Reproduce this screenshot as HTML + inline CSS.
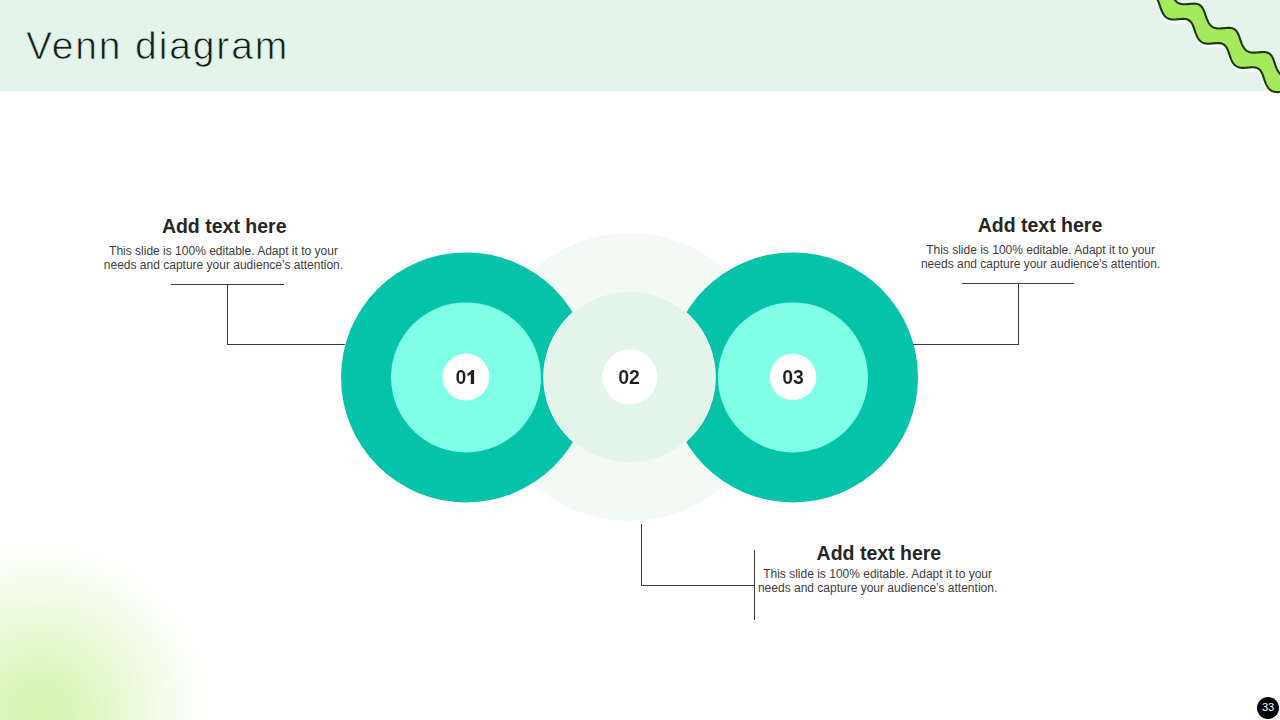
<!DOCTYPE html>
<html><head><meta charset="utf-8"><style>
html,body{margin:0;padding:0;}
body{width:1280px;height:720px;position:relative;overflow:hidden;background:#fff;font-family:"Liberation Sans",sans-serif;}
.abs{position:absolute;}
.title{position:absolute;left:26px;top:26px;font-size:39px;line-height:39px;letter-spacing:1.87px;color:#141d17;white-space:nowrap;-webkit-text-stroke:0.75px #e4f4ea;}
.h{position:absolute;font-weight:bold;font-size:19.5px;line-height:19px;color:#262626;text-align:center;white-space:nowrap;}
.b{position:absolute;font-size:12px;line-height:14px;color:#404040;text-align:center;white-space:nowrap;}
.num{position:absolute;font-weight:bold;font-size:21px;line-height:21px;color:#1e1e1e;text-align:center;width:60px;transform:scaleX(0.93);-webkit-text-stroke:0.15px #fff;}
.pg{position:absolute;left:1257px;top:697px;width:22px;height:22px;border-radius:50%;background:#000;color:#fff;font-size:11px;line-height:20px;text-align:center;}
</style></head><body>
<svg class="abs" style="left:0;top:0" width="1280" height="720" viewBox="0 0 1280 720">
<defs>
<radialGradient id="gl" cx="40" cy="712" r="188" gradientUnits="userSpaceOnUse">
<stop offset="0" stop-color="#d7f5b3"/>
<stop offset="0.18" stop-color="#dbf6bb"/>
<stop offset="0.45" stop-color="#e9f9d6"/>
<stop offset="0.72" stop-color="#f6fdef"/>
<stop offset="1" stop-color="#ffffff" stop-opacity="0"/>
</radialGradient>
<filter id="blur1" x="-20%" y="-20%" width="140%" height="140%"><feGaussianBlur stdDeviation="1.4"/></filter>
</defs>
<rect x="0" y="480" width="320" height="240" fill="url(#gl)"/>
<rect x="0" y="0" width="1280" height="91" fill="#e4f4ea"/>
<path d="M1085.34,-68.66 L1086.00,-68.72 L1086.65,-68.78 L1087.29,-68.84 L1087.94,-68.88 L1088.57,-68.92 L1089.20,-68.94 L1089.81,-68.95 L1090.42,-68.94 L1091.01,-68.92 L1091.59,-68.87 L1092.15,-68.81 L1092.70,-68.71 L1093.23,-68.60 L1093.74,-68.46 L1094.23,-68.29 L1094.70,-68.10 L1095.16,-67.87 L1095.60,-67.63 L1096.01,-67.35 L1096.41,-67.04 L1096.79,-66.71 L1097.15,-66.36 L1097.49,-65.98 L1097.82,-65.57 L1098.13,-65.14 L1098.42,-64.69 L1098.71,-64.22 L1098.97,-63.73 L1099.23,-63.22 L1099.48,-62.70 L1099.71,-62.17 L1099.94,-61.62 L1100.16,-61.06 L1100.37,-60.49 L1100.58,-59.92 L1100.79,-59.34 L1100.99,-58.75 L1101.19,-58.17 L1101.39,-57.58 L1101.59,-56.99 L1101.79,-56.41 L1102.00,-55.83 L1102.20,-55.25 L1102.41,-54.68 L1102.63,-54.11 L1102.85,-53.56 L1103.08,-53.01 L1103.31,-52.47 L1103.55,-51.94 L1103.80,-51.42 L1104.05,-50.91 L1104.32,-50.42 L1104.59,-49.94 L1104.88,-49.47 L1105.17,-49.02 L1105.48,-48.59 L1105.80,-48.17 L1106.13,-47.77 L1106.47,-47.39 L1106.83,-47.03 L1107.20,-46.69 L1107.59,-46.37 L1107.99,-46.07 L1108.40,-45.79 L1108.83,-45.53 L1109.28,-45.29 L1109.74,-45.08 L1110.22,-44.89 L1110.71,-44.72 L1111.22,-44.58 L1111.74,-44.46 L1112.28,-44.35 L1112.83,-44.27 L1113.40,-44.21 L1113.98,-44.17 L1114.58,-44.15 L1115.18,-44.14 L1115.80,-44.15 L1116.42,-44.17 L1117.06,-44.21 L1117.70,-44.25 L1118.34,-44.31 L1118.99,-44.36 L1119.65,-44.42 L1120.30,-44.49 L1120.95,-44.55 L1121.60,-44.60 L1122.24,-44.65 L1122.88,-44.70 L1123.52,-44.73 L1124.14,-44.75 L1124.75,-44.75 L1125.35,-44.73 L1125.94,-44.70 L1126.51,-44.65 L1127.06,-44.57 L1127.60,-44.47 L1128.12,-44.34 L1128.63,-44.19 L1129.11,-44.01 L1129.58,-43.81 L1130.03,-43.57 L1130.45,-43.31 L1130.86,-43.02 L1131.25,-42.71 L1131.62,-42.37 L1131.98,-42.00 L1132.31,-41.61 L1132.63,-41.19 L1132.94,-40.75 L1133.23,-40.30 L1133.50,-39.82 L1133.77,-39.32 L1134.02,-38.81 L1134.26,-38.28 L1134.49,-37.74 L1134.71,-37.18 L1134.93,-36.62 L1135.14,-36.05 L1135.35,-35.48 L1135.55,-34.89 L1135.76,-34.31 L1135.96,-33.72 L1136.16,-33.14 L1136.36,-32.55 L1136.56,-31.97 L1136.76,-31.39 L1136.97,-30.81 L1137.19,-30.24 L1137.40,-29.68 L1137.63,-29.12 L1137.85,-28.58 L1138.09,-28.04 L1138.33,-27.52 L1138.58,-27.00 L1138.84,-26.50 L1139.11,-26.02 L1139.39,-25.54 L1139.68,-25.08 L1139.98,-24.64 L1140.29,-24.21 L1140.62,-23.80 L1140.95,-23.41 L1141.30,-23.04 L1141.67,-22.68 L1142.04,-22.35 L1142.44,-22.04 L1142.84,-21.75 L1143.26,-21.48 L1143.70,-21.23 L1144.15,-21.00 L1144.62,-20.80 L1145.10,-20.62 L1145.60,-20.46 L1146.12,-20.32 L1146.65,-20.21 L1147.19,-20.12 L1147.75,-20.04 L1148.32,-19.99 L1148.91,-19.96 L1149.51,-19.94 L1150.12,-19.94 L1150.74,-19.96 L1151.37,-19.99 L1152.01,-20.02 L1152.65,-20.07 L1153.30,-20.13 L1153.95,-20.19 L1154.60,-20.25 L1155.25,-20.31 L1155.90,-20.37 L1156.55,-20.42 L1157.19,-20.47 L1157.83,-20.51 L1158.46,-20.53 L1159.08,-20.55 L1159.68,-20.54 L1160.28,-20.52 L1160.86,-20.48 L1161.42,-20.41 L1161.97,-20.33 L1162.50,-20.22 L1163.02,-20.08 L1163.51,-19.92 L1163.99,-19.73 L1164.45,-19.51 L1164.89,-19.27 L1165.31,-18.99 L1165.71,-18.69 L1166.09,-18.37 L1166.46,-18.02 L1166.80,-17.64 L1167.13,-17.24 L1167.44,-16.81 L1167.74,-16.36 L1168.03,-15.90 L1168.30,-15.41 L1168.55,-14.91 L1168.80,-14.39 L1169.04,-13.85 L1169.27,-13.31 L1169.49,-12.75 L1169.70,-12.18 L1169.91,-11.61 L1170.12,-11.03 L1170.32,-10.45 L1170.52,-9.86 L1170.72,-9.28 L1170.92,-8.69 L1171.12,-8.11 L1171.33,-7.52 L1171.53,-6.94 L1171.74,-6.37 L1171.96,-5.81 L1172.18,-5.25 L1172.40,-4.69 L1172.63,-4.15 L1172.87,-3.62 L1173.12,-3.10 L1173.37,-2.59 L1173.64,-2.10 L1173.91,-1.61 L1174.19,-1.15 L1174.49,-0.69 L1174.79,-0.26 L1175.11,0.16 L1175.44,0.56 L1175.78,0.95 L1176.14,1.31 L1176.50,1.66 L1176.89,1.98 L1177.29,2.29 L1177.70,2.57 L1178.12,2.83 L1178.57,3.07 L1179.03,3.29 L1179.50,3.48 L1179.99,3.65 L1180.50,3.80 L1181.02,3.93 L1181.55,4.03 L1182.11,4.12 L1182.67,4.18 L1183.25,4.23 L1183.84,4.25 L1184.44,4.26 L1185.06,4.25 L1185.68,4.23 L1186.31,4.20 L1186.95,4.16 L1187.60,4.11 L1188.25,4.05 L1188.90,3.99 L1189.55,3.93 L1190.21,3.87 L1190.86,3.81 L1191.50,3.76 L1192.14,3.71 L1192.78,3.68 L1193.40,3.66 L1194.01,3.65 L1194.61,3.67 L1195.20,3.70 L1195.78,3.75 L1196.34,3.82 L1196.88,3.92 L1197.40,4.04 L1197.91,4.19 L1198.40,4.36 L1198.87,4.56 L1199.32,4.79 L1199.75,5.05 L1200.16,5.33 L1200.55,5.64 L1200.93,5.98 L1201.28,6.34 L1201.62,6.73 L1201.95,7.14 L1202.25,7.57 L1202.54,8.03 L1202.82,8.50 L1203.09,9.00 L1203.34,9.51 L1203.58,10.03 L1203.82,10.57 L1204.04,11.12 L1204.26,11.69 L1204.47,12.25 L1204.68,12.83 L1204.89,13.41 L1205.09,14.00 L1205.29,14.58 L1205.49,15.17 L1205.69,15.75 L1205.89,16.34 L1206.10,16.92 L1206.30,17.50 L1206.52,18.07 L1206.73,18.63 L1206.95,19.19 L1207.18,19.73 L1207.42,20.27 L1207.66,20.80 L1207.91,21.31 L1208.17,21.82 L1208.43,22.31 L1208.71,22.78 L1209.00,23.24 L1209.30,23.69 L1209.61,24.12 L1209.93,24.53 L1210.26,24.93 L1210.61,25.30 L1210.97,25.66 L1211.35,26.00 L1211.73,26.31 L1212.14,26.61 L1212.56,26.88 L1212.99,27.14 L1213.44,27.37 L1213.90,27.57 L1214.39,27.76 L1214.88,27.92 L1215.39,28.06 L1215.92,28.18 L1216.46,28.27 L1217.02,28.35 L1217.59,28.40 L1218.18,28.44 L1218.77,28.46 L1219.38,28.46 L1220.00,28.45 L1220.63,28.42 L1221.26,28.39 L1221.90,28.34 L1222.55,28.29 L1223.20,28.23 L1223.85,28.17 L1224.51,28.10 L1225.16,28.04 L1225.81,27.99 L1226.45,27.94 L1227.09,27.90 L1227.72,27.87 L1228.34,27.86 L1228.95,27.86 L1229.54,27.88 L1230.13,27.92 L1230.69,27.98 L1231.25,28.06 L1231.78,28.17 L1232.30,28.30 L1232.80,28.46 L1233.28,28.64 L1233.74,28.85 L1234.18,29.09 L1234.61,29.36 L1235.01,29.66 L1235.39,29.98 L1235.76,30.33 L1236.11,30.70 L1236.44,31.10 L1236.76,31.52 L1237.06,31.96 L1237.34,32.43 L1237.62,32.91 L1237.88,33.41 L1238.13,33.93 L1238.37,34.46 L1238.60,35.00 L1238.82,35.56 L1239.03,36.12 L1239.24,36.69 L1239.45,37.27 L1239.65,37.85 L1239.85,38.44 L1240.05,39.03 L1240.26,39.61 L1240.46,40.20 L1240.66,40.78 L1240.86,41.36 L1241.07,41.93 L1241.29,42.50 L1241.51,43.06 L1241.73,43.62 L1241.96,44.16 L1242.20,44.69 L1242.44,45.21 L1242.70,45.73 L1242.96,46.22 L1243.23,46.71 L1243.51,47.18 L1243.80,47.63 L1244.11,48.07 L1244.42,48.50 L1244.75,48.90 L1245.09,49.29 L1245.44,49.66 L1245.81,50.01 L1246.19,50.33 L1246.58,50.64 L1246.99,50.93 L1247.42,51.19 L1247.86,51.44 L1248.31,51.66 L1248.79,51.85 L1249.27,52.03 L1249.78,52.18 L1250.29,52.31 L1250.83,52.42 L1251.38,52.51 L1251.94,52.58 L1252.52,52.62 L1253.11,52.65 L1253.71,52.66 L1254.32,52.66 L1254.94,52.64 L1255.57,52.61 L1256.21,52.57 L1256.86,52.52 L1257.50,52.46 L1258.16,52.40 L1258.81,52.34 L1259.46,52.28 L1260.11,52.22 L1260.76,52.17 L1261.40,52.12 L1262.03,52.09 L1262.66,52.07 L1263.28,52.06 L1263.88,52.07 L1264.47,52.09 L1265.05,52.14 L1265.61,52.21 L1266.15,52.30 L1266.68,52.42 L1267.19,52.56 L1267.68,52.73 L1268.16,52.93 L1268.61,53.15 L1269.04,53.40 L1269.46,53.68 L1269.85,53.99 L1270.23,54.32 L1270.59,54.68 L1270.93,55.06 L1271.26,55.47 L1271.57,55.90 L1271.86,56.35 L1272.14,56.83 L1272.41,57.32 L1272.67,57.82 L1272.91,58.35 L1273.14,58.88 L1273.37,59.43 L1273.59,59.99 L1273.80,60.56 L1274.01,61.14 L1274.22,61.72 L1274.42,62.30 L1274.62,62.89 L1274.82,63.47 L1275.02,64.06 L1275.22,64.64 L1275.43,65.22 L1275.63,65.80 L1275.85,66.37 L1276.06,66.94 L1276.28,67.50 L1276.51,68.04 L1276.74,68.58 L1276.98,69.11 L1277.23,69.63 L1277.49,70.14 L1277.75,70.63 L1278.03,71.11 L1278.32,71.57 L1278.61,72.02 L1278.92,72.45 L1279.24,72.87 L1279.57,73.27 L1279.92,73.65 L1280.27,74.01 L1280.65,74.35 L1281.03,74.67 L1281.43,74.97 L1281.85,75.24 L1282.28,75.50 L1282.73,75.73 L1283.19,75.94 L1283.67,76.13 L1284.16,76.30 L1284.67,76.44 L1285.20,76.56 L1285.74,76.66 L1286.29,76.74 L1286.86,76.80 L1287.44,76.84 L1288.04,76.86 L1288.64,76.87 L1289.26,76.86 L1289.89,76.83 L1290.52,76.80 L1291.16,76.75 L1291.81,76.70 L1292.46,76.64 L1293.11,76.58 L1293.76,76.52 L1294.42,76.46 L1295.06,76.40 L1295.71,76.35 L1296.35,76.31 L1296.98,76.28 L1297.60,76.26 L1298.21,76.26 L1298.81,76.28 L1299.39,76.31 L1299.97,76.37 L1300.52,76.45 L1301.06,76.55 L1301.58,76.68 L1302.08,76.83 L1302.56,77.01 L1303.03,77.22 L1303.47,77.46 L1303.90,77.72 L1304.31,78.01 L1304.70,78.33 L1305.07,78.67 L1305.42,79.04 L1305.75,79.43 L1306.07,79.85 L1306.38,80.29 L1306.66,80.75 L1306.94,81.23 L1307.20,81.73 L1307.45,82.24 L1307.69,82.77 L1307.92,83.31 L1308.15,83.87 L1308.36,84.43 L1308.57,85.00 L1308.78,85.58 L1308.99,86.16 L1309.19,86.74 L1309.39,87.33 L1309.59,87.92 L1309.79,88.50 L1309.99,89.09 L1310.20,89.67 L1310.40,90.24 L1310.62,90.81 L1310.84,91.37 L1311.06,91.93 L1311.29,92.47 L1311.52,93.01 L1311.77,93.53 L1312.02,94.04 L1312.28,94.54 L1312.55,95.03 L1301.79,110.26 L1301.52,109.77 L1301.26,109.27 L1301.01,108.76 L1300.77,108.23 L1300.53,107.70 L1300.30,107.15 L1300.08,106.60 L1299.86,106.04 L1299.65,105.47 L1299.44,104.89 L1299.23,104.32 L1299.03,103.73 L1298.83,103.15 L1298.63,102.56 L1298.43,101.97 L1298.23,101.39 L1298.02,100.81 L1297.82,100.23 L1297.61,99.66 L1297.39,99.09 L1297.17,98.54 L1296.93,98.00 L1296.69,97.47 L1296.44,96.96 L1296.18,96.46 L1295.91,95.98 L1295.62,95.52 L1295.31,95.08 L1295.00,94.66 L1294.66,94.27 L1294.31,93.90 L1293.94,93.55 L1293.55,93.24 L1293.14,92.95 L1292.72,92.68 L1292.27,92.45 L1291.81,92.24 L1291.32,92.06 L1290.82,91.91 L1290.30,91.78 L1289.76,91.68 L1289.21,91.60 L1288.64,91.54 L1288.05,91.51 L1287.45,91.49 L1286.84,91.49 L1286.22,91.51 L1285.59,91.54 L1284.95,91.58 L1284.31,91.63 L1283.66,91.69 L1283.01,91.75 L1282.35,91.81 L1281.70,91.87 L1281.05,91.93 L1280.40,91.98 L1279.76,92.03 L1279.13,92.06 L1278.50,92.08 L1277.89,92.09 L1277.28,92.09 L1276.68,92.07 L1276.10,92.03 L1275.53,91.97 L1274.98,91.89 L1274.44,91.79 L1273.91,91.67 L1273.41,91.53 L1272.91,91.36 L1272.43,91.17 L1271.97,90.96 L1271.52,90.73 L1271.09,90.47 L1270.68,90.19 L1270.28,89.89 L1269.89,89.57 L1269.52,89.23 L1269.16,88.87 L1268.81,88.49 L1268.48,88.10 L1268.16,87.68 L1267.85,87.25 L1267.56,86.80 L1267.27,86.33 L1267.00,85.86 L1266.73,85.36 L1266.47,84.86 L1266.22,84.34 L1265.98,83.81 L1265.75,83.27 L1265.52,82.72 L1265.30,82.17 L1265.09,81.60 L1264.88,81.03 L1264.67,80.45 L1264.47,79.87 L1264.26,79.29 L1264.06,78.70 L1263.86,78.11 L1263.66,77.53 L1263.46,76.94 L1263.26,76.36 L1263.05,75.79 L1262.83,75.22 L1262.61,74.66 L1262.39,74.11 L1262.15,73.58 L1261.91,73.05 L1261.65,72.55 L1261.38,72.05 L1261.10,71.58 L1260.81,71.13 L1260.50,70.70 L1260.18,70.29 L1259.83,69.91 L1259.47,69.55 L1259.10,69.22 L1258.70,68.91 L1258.29,68.63 L1257.85,68.38 L1257.40,68.16 L1256.93,67.96 L1256.43,67.79 L1255.92,67.65 L1255.40,67.53 L1254.85,67.44 L1254.29,67.37 L1253.71,67.32 L1253.12,67.29 L1252.52,67.29 L1251.90,67.29 L1251.28,67.32 L1250.64,67.35 L1250.00,67.40 L1249.35,67.45 L1248.70,67.51 L1248.05,67.57 L1247.40,67.63 L1246.75,67.69 L1246.10,67.75 L1245.45,67.80 L1244.82,67.84 L1244.18,67.87 L1243.56,67.89 L1242.95,67.89 L1242.35,67.88 L1241.76,67.85 L1241.18,67.80 L1240.62,67.74 L1240.07,67.65 L1239.54,67.54 L1239.02,67.41 L1238.52,67.26 L1238.03,67.08 L1237.56,66.88 L1237.10,66.66 L1236.66,66.42 L1236.23,66.16 L1235.83,65.87 L1235.43,65.56 L1235.05,65.23 L1234.68,64.88 L1234.33,64.52 L1233.99,64.13 L1233.66,63.72 L1233.35,63.30 L1233.05,62.86 L1232.75,62.41 L1232.47,61.94 L1232.20,61.45 L1231.94,60.95 L1231.69,60.44 L1231.44,59.92 L1231.20,59.39 L1230.97,58.84 L1230.75,58.29 L1230.53,57.73 L1230.32,57.16 L1230.11,56.59 L1229.90,56.01 L1229.70,55.43 L1229.50,54.84 L1229.30,54.26 L1229.10,53.67 L1228.90,53.08 L1228.69,52.50 L1228.49,51.92 L1228.28,51.35 L1228.06,50.79 L1227.84,50.23 L1227.61,49.69 L1227.37,49.16 L1227.12,48.64 L1226.86,48.14 L1226.59,47.65 L1226.30,47.19 L1226.00,46.75 L1225.68,46.33 L1225.35,45.93 L1225.00,45.55 L1224.64,45.21 L1224.25,44.88 L1223.85,44.59 L1223.42,44.32 L1222.98,44.08 L1222.52,43.87 L1222.04,43.68 L1221.54,43.53 L1221.02,43.39 L1220.49,43.29 L1219.94,43.20 L1219.37,43.14 L1218.79,43.11 L1218.19,43.09 L1217.58,43.09 L1216.96,43.10 L1216.33,43.13 L1215.69,43.17 L1215.05,43.22 L1214.40,43.27 L1213.75,43.33 L1213.10,43.40 L1212.44,43.46 L1211.79,43.52 L1211.15,43.57 L1210.50,43.62 L1209.87,43.65 L1209.24,43.68 L1208.62,43.69 L1208.02,43.69 L1207.42,43.67 L1206.83,43.63 L1206.26,43.58 L1205.71,43.50 L1205.16,43.41 L1204.64,43.29 L1204.12,43.15 L1203.63,42.99 L1203.15,42.80 L1202.68,42.59 L1202.23,42.36 L1201.80,42.11 L1201.38,41.84 L1200.98,41.54 L1200.59,41.23 L1200.21,40.89 L1199.85,40.53 L1199.51,40.16 L1199.17,39.76 L1198.85,39.35 L1198.54,38.92 L1198.24,38.47 L1197.95,38.01 L1197.68,37.53 L1197.41,37.04 L1197.15,36.54 L1196.90,36.03 L1196.66,35.50 L1196.42,34.96 L1196.20,34.41 L1195.97,33.86 L1195.76,33.29 L1195.55,32.72 L1195.34,32.15 L1195.13,31.57 L1194.93,30.98 L1194.73,30.40 L1194.53,29.81 L1194.33,29.22 L1194.13,28.64 L1193.92,28.06 L1193.72,27.48 L1193.50,26.91 L1193.29,26.35 L1193.06,25.80 L1192.83,25.26 L1192.58,24.74 L1192.33,24.23 L1192.06,23.73 L1191.79,23.26 L1191.50,22.80 L1191.19,22.37 L1190.87,21.96 L1190.53,21.57 L1190.17,21.20 L1189.80,20.87 L1189.40,20.56 L1188.99,20.27 L1188.56,20.02 L1188.11,19.79 L1187.64,19.59 L1187.15,19.41 L1186.65,19.27 L1186.12,19.15 L1185.58,19.05 L1185.02,18.98 L1184.45,18.92 L1183.86,18.89 L1183.25,18.88 L1182.64,18.89 L1182.02,18.91 L1181.38,18.94 L1180.74,18.99 L1180.10,19.04 L1179.45,19.10 L1178.80,19.16 L1178.14,19.22 L1177.49,19.28 L1176.84,19.34 L1176.20,19.39 L1175.56,19.43 L1174.92,19.46 L1174.30,19.48 L1173.69,19.49 L1173.08,19.48 L1172.49,19.45 L1171.91,19.41 L1171.35,19.35 L1170.80,19.26 L1170.26,19.16 L1169.74,19.03 L1169.23,18.88 L1168.74,18.71 L1168.27,18.52 L1167.81,18.30 L1167.37,18.06 L1166.94,17.80 L1166.53,17.52 L1166.13,17.21 L1165.75,16.89 L1165.38,16.54 L1165.02,16.18 L1164.68,15.79 L1164.35,15.39 L1164.04,14.97 L1163.73,14.53 L1163.44,14.08 L1163.15,13.61 L1162.88,13.13 L1162.62,12.64 L1162.36,12.13 L1162.12,11.61 L1161.88,11.08 L1161.64,10.53 L1161.42,9.98 L1161.20,9.42 L1160.99,8.86 L1160.78,8.28 L1160.57,7.71 L1160.37,7.12 L1160.16,6.54 L1159.96,5.95 L1159.76,5.36 L1159.56,4.78 L1159.36,4.20 L1159.15,3.62 L1158.95,3.04 L1158.73,2.48 L1158.51,1.92 L1158.28,1.37 L1158.04,0.84 L1157.80,0.32 L1157.54,-0.18 L1157.27,-0.67 L1156.98,-1.14 L1156.69,-1.58 L1156.37,-2.01 L1156.04,-2.41 L1155.70,-2.79 L1155.33,-3.14 L1154.95,-3.47 L1154.55,-3.77 L1154.13,-4.04 L1153.69,-4.28 L1153.23,-4.50 L1152.76,-4.69 L1152.26,-4.85 L1151.75,-4.99 L1151.21,-5.10 L1150.67,-5.19 L1150.10,-5.25 L1149.52,-5.29 L1148.93,-5.31 L1148.32,-5.32 L1147.70,-5.31 L1147.07,-5.28 L1146.44,-5.24 L1145.79,-5.20 L1145.15,-5.14 L1144.49,-5.08 L1143.84,-5.02 L1143.19,-4.96 L1142.54,-4.90 L1141.89,-4.84 L1141.25,-4.80 L1140.61,-4.76 L1139.98,-4.73 L1139.36,-4.71 L1138.75,-4.71 L1138.15,-4.73 L1137.57,-4.76 L1136.99,-4.82 L1136.43,-4.89 L1135.89,-4.98 L1135.36,-5.09 L1134.84,-5.23 L1134.34,-5.39 L1133.86,-5.57 L1133.39,-5.77 L1132.94,-6.00 L1132.50,-6.25 L1132.08,-6.52 L1131.68,-6.81 L1131.29,-7.12 L1130.91,-7.46 L1130.55,-7.81 L1130.20,-8.18 L1129.86,-8.57 L1129.54,-8.98 L1129.22,-9.41 L1128.92,-9.85 L1128.64,-10.31 L1128.36,-10.79 L1128.09,-11.27 L1127.83,-11.78 L1127.58,-12.29 L1127.33,-12.81 L1127.10,-13.35 L1126.87,-13.90 L1126.64,-14.45 L1126.43,-15.01 L1126.22,-15.58 L1126.01,-16.16 L1125.80,-16.74 L1125.60,-17.32 L1125.40,-17.91 L1125.20,-18.49 L1125.00,-19.08 L1124.80,-19.67 L1124.59,-20.25 L1124.39,-20.82 L1124.17,-21.39 L1123.96,-21.96 L1123.73,-22.51 L1123.50,-23.05 L1123.26,-23.58 L1123.01,-24.09 L1122.74,-24.59 L1122.47,-25.07 L1122.18,-25.53 L1121.88,-25.96 L1121.56,-26.38 L1121.22,-26.77 L1120.87,-27.14 L1120.49,-27.48 L1120.10,-27.80 L1119.70,-28.08 L1119.27,-28.34 L1118.82,-28.58 L1118.36,-28.78 L1117.87,-28.96 L1117.37,-29.11 L1116.84,-29.24 L1116.31,-29.34 L1115.75,-29.42 L1115.18,-29.47 L1114.59,-29.51 L1113.99,-29.52 L1113.38,-29.52 L1112.76,-29.50 L1112.13,-29.47 L1111.49,-29.43 L1110.84,-29.38 L1110.19,-29.32 L1109.54,-29.26 L1108.89,-29.20 L1108.24,-29.13 L1107.59,-29.08 L1106.94,-29.03 L1106.30,-28.98 L1105.67,-28.95 L1105.04,-28.92 L1104.42,-28.91 L1103.82,-28.92 L1103.22,-28.94 L1102.64,-28.99 L1102.08,-29.05 L1101.52,-29.13 L1100.98,-29.23 L1100.46,-29.35 L1099.95,-29.50 L1099.46,-29.66 L1098.98,-29.85 L1098.52,-30.07 L1098.07,-30.30 L1097.64,-30.56 L1097.23,-30.84 L1096.83,-31.14 L1096.44,-31.46 L1096.07,-31.80 L1095.72,-32.16 L1095.37,-32.54 L1095.04,-32.94 L1094.72,-33.36 L1094.42,-33.79 L1094.12,-34.24 L1093.83,-34.71 L1093.56,-35.19 L1093.29,-35.68 L1093.04,-36.19 L1092.79,-36.71 L1092.55,-37.24 L1092.32,-37.78 L1092.09,-38.33 L1091.87,-38.88 L1091.66,-39.45 L1091.44,-40.02 L1091.24,-40.60 L1091.03,-41.18 L1090.83,-41.77 L1090.63,-42.35 L1090.43,-42.94 L1090.23,-43.53 L1090.03,-44.11 L1089.82,-44.69 L1089.61,-45.26 L1089.40,-45.83 L1089.18,-46.39 L1088.95,-46.94 L1088.72,-47.47 L1088.47,-47.99 L1088.22,-48.50 L1087.95,-48.99 L1087.67,-49.46 L1087.37,-49.91 L1087.06,-50.34 L1086.73,-50.75 L1086.39,-51.13 L1086.03,-51.49 L1085.65,-51.82 L1085.25,-52.12 L1084.84,-52.40 L1084.40,-52.65 L1083.95,-52.87 L1083.47,-53.06 L1082.98,-53.23 L1082.47,-53.37 L1081.94,-53.49 L1081.39,-53.58 L1080.83,-53.64 L1080.25,-53.69 L1079.66,-53.72 L1079.06,-53.72 L1078.44,-53.71 L1077.81,-53.69 L1077.18,-53.65 L1076.54,-53.61 L1075.89,-53.55 L1075.24,-53.50 L1074.59,-53.43 Z" fill="#ffffff" transform="translate(0.5,3.2)" filter="url(#blur1)"/>
<path d="M1085.34,-68.66 L1086.00,-68.72 L1086.65,-68.78 L1087.29,-68.84 L1087.94,-68.88 L1088.57,-68.92 L1089.20,-68.94 L1089.81,-68.95 L1090.42,-68.94 L1091.01,-68.92 L1091.59,-68.87 L1092.15,-68.81 L1092.70,-68.71 L1093.23,-68.60 L1093.74,-68.46 L1094.23,-68.29 L1094.70,-68.10 L1095.16,-67.87 L1095.60,-67.63 L1096.01,-67.35 L1096.41,-67.04 L1096.79,-66.71 L1097.15,-66.36 L1097.49,-65.98 L1097.82,-65.57 L1098.13,-65.14 L1098.42,-64.69 L1098.71,-64.22 L1098.97,-63.73 L1099.23,-63.22 L1099.48,-62.70 L1099.71,-62.17 L1099.94,-61.62 L1100.16,-61.06 L1100.37,-60.49 L1100.58,-59.92 L1100.79,-59.34 L1100.99,-58.75 L1101.19,-58.17 L1101.39,-57.58 L1101.59,-56.99 L1101.79,-56.41 L1102.00,-55.83 L1102.20,-55.25 L1102.41,-54.68 L1102.63,-54.11 L1102.85,-53.56 L1103.08,-53.01 L1103.31,-52.47 L1103.55,-51.94 L1103.80,-51.42 L1104.05,-50.91 L1104.32,-50.42 L1104.59,-49.94 L1104.88,-49.47 L1105.17,-49.02 L1105.48,-48.59 L1105.80,-48.17 L1106.13,-47.77 L1106.47,-47.39 L1106.83,-47.03 L1107.20,-46.69 L1107.59,-46.37 L1107.99,-46.07 L1108.40,-45.79 L1108.83,-45.53 L1109.28,-45.29 L1109.74,-45.08 L1110.22,-44.89 L1110.71,-44.72 L1111.22,-44.58 L1111.74,-44.46 L1112.28,-44.35 L1112.83,-44.27 L1113.40,-44.21 L1113.98,-44.17 L1114.58,-44.15 L1115.18,-44.14 L1115.80,-44.15 L1116.42,-44.17 L1117.06,-44.21 L1117.70,-44.25 L1118.34,-44.31 L1118.99,-44.36 L1119.65,-44.42 L1120.30,-44.49 L1120.95,-44.55 L1121.60,-44.60 L1122.24,-44.65 L1122.88,-44.70 L1123.52,-44.73 L1124.14,-44.75 L1124.75,-44.75 L1125.35,-44.73 L1125.94,-44.70 L1126.51,-44.65 L1127.06,-44.57 L1127.60,-44.47 L1128.12,-44.34 L1128.63,-44.19 L1129.11,-44.01 L1129.58,-43.81 L1130.03,-43.57 L1130.45,-43.31 L1130.86,-43.02 L1131.25,-42.71 L1131.62,-42.37 L1131.98,-42.00 L1132.31,-41.61 L1132.63,-41.19 L1132.94,-40.75 L1133.23,-40.30 L1133.50,-39.82 L1133.77,-39.32 L1134.02,-38.81 L1134.26,-38.28 L1134.49,-37.74 L1134.71,-37.18 L1134.93,-36.62 L1135.14,-36.05 L1135.35,-35.48 L1135.55,-34.89 L1135.76,-34.31 L1135.96,-33.72 L1136.16,-33.14 L1136.36,-32.55 L1136.56,-31.97 L1136.76,-31.39 L1136.97,-30.81 L1137.19,-30.24 L1137.40,-29.68 L1137.63,-29.12 L1137.85,-28.58 L1138.09,-28.04 L1138.33,-27.52 L1138.58,-27.00 L1138.84,-26.50 L1139.11,-26.02 L1139.39,-25.54 L1139.68,-25.08 L1139.98,-24.64 L1140.29,-24.21 L1140.62,-23.80 L1140.95,-23.41 L1141.30,-23.04 L1141.67,-22.68 L1142.04,-22.35 L1142.44,-22.04 L1142.84,-21.75 L1143.26,-21.48 L1143.70,-21.23 L1144.15,-21.00 L1144.62,-20.80 L1145.10,-20.62 L1145.60,-20.46 L1146.12,-20.32 L1146.65,-20.21 L1147.19,-20.12 L1147.75,-20.04 L1148.32,-19.99 L1148.91,-19.96 L1149.51,-19.94 L1150.12,-19.94 L1150.74,-19.96 L1151.37,-19.99 L1152.01,-20.02 L1152.65,-20.07 L1153.30,-20.13 L1153.95,-20.19 L1154.60,-20.25 L1155.25,-20.31 L1155.90,-20.37 L1156.55,-20.42 L1157.19,-20.47 L1157.83,-20.51 L1158.46,-20.53 L1159.08,-20.55 L1159.68,-20.54 L1160.28,-20.52 L1160.86,-20.48 L1161.42,-20.41 L1161.97,-20.33 L1162.50,-20.22 L1163.02,-20.08 L1163.51,-19.92 L1163.99,-19.73 L1164.45,-19.51 L1164.89,-19.27 L1165.31,-18.99 L1165.71,-18.69 L1166.09,-18.37 L1166.46,-18.02 L1166.80,-17.64 L1167.13,-17.24 L1167.44,-16.81 L1167.74,-16.36 L1168.03,-15.90 L1168.30,-15.41 L1168.55,-14.91 L1168.80,-14.39 L1169.04,-13.85 L1169.27,-13.31 L1169.49,-12.75 L1169.70,-12.18 L1169.91,-11.61 L1170.12,-11.03 L1170.32,-10.45 L1170.52,-9.86 L1170.72,-9.28 L1170.92,-8.69 L1171.12,-8.11 L1171.33,-7.52 L1171.53,-6.94 L1171.74,-6.37 L1171.96,-5.81 L1172.18,-5.25 L1172.40,-4.69 L1172.63,-4.15 L1172.87,-3.62 L1173.12,-3.10 L1173.37,-2.59 L1173.64,-2.10 L1173.91,-1.61 L1174.19,-1.15 L1174.49,-0.69 L1174.79,-0.26 L1175.11,0.16 L1175.44,0.56 L1175.78,0.95 L1176.14,1.31 L1176.50,1.66 L1176.89,1.98 L1177.29,2.29 L1177.70,2.57 L1178.12,2.83 L1178.57,3.07 L1179.03,3.29 L1179.50,3.48 L1179.99,3.65 L1180.50,3.80 L1181.02,3.93 L1181.55,4.03 L1182.11,4.12 L1182.67,4.18 L1183.25,4.23 L1183.84,4.25 L1184.44,4.26 L1185.06,4.25 L1185.68,4.23 L1186.31,4.20 L1186.95,4.16 L1187.60,4.11 L1188.25,4.05 L1188.90,3.99 L1189.55,3.93 L1190.21,3.87 L1190.86,3.81 L1191.50,3.76 L1192.14,3.71 L1192.78,3.68 L1193.40,3.66 L1194.01,3.65 L1194.61,3.67 L1195.20,3.70 L1195.78,3.75 L1196.34,3.82 L1196.88,3.92 L1197.40,4.04 L1197.91,4.19 L1198.40,4.36 L1198.87,4.56 L1199.32,4.79 L1199.75,5.05 L1200.16,5.33 L1200.55,5.64 L1200.93,5.98 L1201.28,6.34 L1201.62,6.73 L1201.95,7.14 L1202.25,7.57 L1202.54,8.03 L1202.82,8.50 L1203.09,9.00 L1203.34,9.51 L1203.58,10.03 L1203.82,10.57 L1204.04,11.12 L1204.26,11.69 L1204.47,12.25 L1204.68,12.83 L1204.89,13.41 L1205.09,14.00 L1205.29,14.58 L1205.49,15.17 L1205.69,15.75 L1205.89,16.34 L1206.10,16.92 L1206.30,17.50 L1206.52,18.07 L1206.73,18.63 L1206.95,19.19 L1207.18,19.73 L1207.42,20.27 L1207.66,20.80 L1207.91,21.31 L1208.17,21.82 L1208.43,22.31 L1208.71,22.78 L1209.00,23.24 L1209.30,23.69 L1209.61,24.12 L1209.93,24.53 L1210.26,24.93 L1210.61,25.30 L1210.97,25.66 L1211.35,26.00 L1211.73,26.31 L1212.14,26.61 L1212.56,26.88 L1212.99,27.14 L1213.44,27.37 L1213.90,27.57 L1214.39,27.76 L1214.88,27.92 L1215.39,28.06 L1215.92,28.18 L1216.46,28.27 L1217.02,28.35 L1217.59,28.40 L1218.18,28.44 L1218.77,28.46 L1219.38,28.46 L1220.00,28.45 L1220.63,28.42 L1221.26,28.39 L1221.90,28.34 L1222.55,28.29 L1223.20,28.23 L1223.85,28.17 L1224.51,28.10 L1225.16,28.04 L1225.81,27.99 L1226.45,27.94 L1227.09,27.90 L1227.72,27.87 L1228.34,27.86 L1228.95,27.86 L1229.54,27.88 L1230.13,27.92 L1230.69,27.98 L1231.25,28.06 L1231.78,28.17 L1232.30,28.30 L1232.80,28.46 L1233.28,28.64 L1233.74,28.85 L1234.18,29.09 L1234.61,29.36 L1235.01,29.66 L1235.39,29.98 L1235.76,30.33 L1236.11,30.70 L1236.44,31.10 L1236.76,31.52 L1237.06,31.96 L1237.34,32.43 L1237.62,32.91 L1237.88,33.41 L1238.13,33.93 L1238.37,34.46 L1238.60,35.00 L1238.82,35.56 L1239.03,36.12 L1239.24,36.69 L1239.45,37.27 L1239.65,37.85 L1239.85,38.44 L1240.05,39.03 L1240.26,39.61 L1240.46,40.20 L1240.66,40.78 L1240.86,41.36 L1241.07,41.93 L1241.29,42.50 L1241.51,43.06 L1241.73,43.62 L1241.96,44.16 L1242.20,44.69 L1242.44,45.21 L1242.70,45.73 L1242.96,46.22 L1243.23,46.71 L1243.51,47.18 L1243.80,47.63 L1244.11,48.07 L1244.42,48.50 L1244.75,48.90 L1245.09,49.29 L1245.44,49.66 L1245.81,50.01 L1246.19,50.33 L1246.58,50.64 L1246.99,50.93 L1247.42,51.19 L1247.86,51.44 L1248.31,51.66 L1248.79,51.85 L1249.27,52.03 L1249.78,52.18 L1250.29,52.31 L1250.83,52.42 L1251.38,52.51 L1251.94,52.58 L1252.52,52.62 L1253.11,52.65 L1253.71,52.66 L1254.32,52.66 L1254.94,52.64 L1255.57,52.61 L1256.21,52.57 L1256.86,52.52 L1257.50,52.46 L1258.16,52.40 L1258.81,52.34 L1259.46,52.28 L1260.11,52.22 L1260.76,52.17 L1261.40,52.12 L1262.03,52.09 L1262.66,52.07 L1263.28,52.06 L1263.88,52.07 L1264.47,52.09 L1265.05,52.14 L1265.61,52.21 L1266.15,52.30 L1266.68,52.42 L1267.19,52.56 L1267.68,52.73 L1268.16,52.93 L1268.61,53.15 L1269.04,53.40 L1269.46,53.68 L1269.85,53.99 L1270.23,54.32 L1270.59,54.68 L1270.93,55.06 L1271.26,55.47 L1271.57,55.90 L1271.86,56.35 L1272.14,56.83 L1272.41,57.32 L1272.67,57.82 L1272.91,58.35 L1273.14,58.88 L1273.37,59.43 L1273.59,59.99 L1273.80,60.56 L1274.01,61.14 L1274.22,61.72 L1274.42,62.30 L1274.62,62.89 L1274.82,63.47 L1275.02,64.06 L1275.22,64.64 L1275.43,65.22 L1275.63,65.80 L1275.85,66.37 L1276.06,66.94 L1276.28,67.50 L1276.51,68.04 L1276.74,68.58 L1276.98,69.11 L1277.23,69.63 L1277.49,70.14 L1277.75,70.63 L1278.03,71.11 L1278.32,71.57 L1278.61,72.02 L1278.92,72.45 L1279.24,72.87 L1279.57,73.27 L1279.92,73.65 L1280.27,74.01 L1280.65,74.35 L1281.03,74.67 L1281.43,74.97 L1281.85,75.24 L1282.28,75.50 L1282.73,75.73 L1283.19,75.94 L1283.67,76.13 L1284.16,76.30 L1284.67,76.44 L1285.20,76.56 L1285.74,76.66 L1286.29,76.74 L1286.86,76.80 L1287.44,76.84 L1288.04,76.86 L1288.64,76.87 L1289.26,76.86 L1289.89,76.83 L1290.52,76.80 L1291.16,76.75 L1291.81,76.70 L1292.46,76.64 L1293.11,76.58 L1293.76,76.52 L1294.42,76.46 L1295.06,76.40 L1295.71,76.35 L1296.35,76.31 L1296.98,76.28 L1297.60,76.26 L1298.21,76.26 L1298.81,76.28 L1299.39,76.31 L1299.97,76.37 L1300.52,76.45 L1301.06,76.55 L1301.58,76.68 L1302.08,76.83 L1302.56,77.01 L1303.03,77.22 L1303.47,77.46 L1303.90,77.72 L1304.31,78.01 L1304.70,78.33 L1305.07,78.67 L1305.42,79.04 L1305.75,79.43 L1306.07,79.85 L1306.38,80.29 L1306.66,80.75 L1306.94,81.23 L1307.20,81.73 L1307.45,82.24 L1307.69,82.77 L1307.92,83.31 L1308.15,83.87 L1308.36,84.43 L1308.57,85.00 L1308.78,85.58 L1308.99,86.16 L1309.19,86.74 L1309.39,87.33 L1309.59,87.92 L1309.79,88.50 L1309.99,89.09 L1310.20,89.67 L1310.40,90.24 L1310.62,90.81 L1310.84,91.37 L1311.06,91.93 L1311.29,92.47 L1311.52,93.01 L1311.77,93.53 L1312.02,94.04 L1312.28,94.54 L1312.55,95.03 L1301.79,110.26 L1301.52,109.77 L1301.26,109.27 L1301.01,108.76 L1300.77,108.23 L1300.53,107.70 L1300.30,107.15 L1300.08,106.60 L1299.86,106.04 L1299.65,105.47 L1299.44,104.89 L1299.23,104.32 L1299.03,103.73 L1298.83,103.15 L1298.63,102.56 L1298.43,101.97 L1298.23,101.39 L1298.02,100.81 L1297.82,100.23 L1297.61,99.66 L1297.39,99.09 L1297.17,98.54 L1296.93,98.00 L1296.69,97.47 L1296.44,96.96 L1296.18,96.46 L1295.91,95.98 L1295.62,95.52 L1295.31,95.08 L1295.00,94.66 L1294.66,94.27 L1294.31,93.90 L1293.94,93.55 L1293.55,93.24 L1293.14,92.95 L1292.72,92.68 L1292.27,92.45 L1291.81,92.24 L1291.32,92.06 L1290.82,91.91 L1290.30,91.78 L1289.76,91.68 L1289.21,91.60 L1288.64,91.54 L1288.05,91.51 L1287.45,91.49 L1286.84,91.49 L1286.22,91.51 L1285.59,91.54 L1284.95,91.58 L1284.31,91.63 L1283.66,91.69 L1283.01,91.75 L1282.35,91.81 L1281.70,91.87 L1281.05,91.93 L1280.40,91.98 L1279.76,92.03 L1279.13,92.06 L1278.50,92.08 L1277.89,92.09 L1277.28,92.09 L1276.68,92.07 L1276.10,92.03 L1275.53,91.97 L1274.98,91.89 L1274.44,91.79 L1273.91,91.67 L1273.41,91.53 L1272.91,91.36 L1272.43,91.17 L1271.97,90.96 L1271.52,90.73 L1271.09,90.47 L1270.68,90.19 L1270.28,89.89 L1269.89,89.57 L1269.52,89.23 L1269.16,88.87 L1268.81,88.49 L1268.48,88.10 L1268.16,87.68 L1267.85,87.25 L1267.56,86.80 L1267.27,86.33 L1267.00,85.86 L1266.73,85.36 L1266.47,84.86 L1266.22,84.34 L1265.98,83.81 L1265.75,83.27 L1265.52,82.72 L1265.30,82.17 L1265.09,81.60 L1264.88,81.03 L1264.67,80.45 L1264.47,79.87 L1264.26,79.29 L1264.06,78.70 L1263.86,78.11 L1263.66,77.53 L1263.46,76.94 L1263.26,76.36 L1263.05,75.79 L1262.83,75.22 L1262.61,74.66 L1262.39,74.11 L1262.15,73.58 L1261.91,73.05 L1261.65,72.55 L1261.38,72.05 L1261.10,71.58 L1260.81,71.13 L1260.50,70.70 L1260.18,70.29 L1259.83,69.91 L1259.47,69.55 L1259.10,69.22 L1258.70,68.91 L1258.29,68.63 L1257.85,68.38 L1257.40,68.16 L1256.93,67.96 L1256.43,67.79 L1255.92,67.65 L1255.40,67.53 L1254.85,67.44 L1254.29,67.37 L1253.71,67.32 L1253.12,67.29 L1252.52,67.29 L1251.90,67.29 L1251.28,67.32 L1250.64,67.35 L1250.00,67.40 L1249.35,67.45 L1248.70,67.51 L1248.05,67.57 L1247.40,67.63 L1246.75,67.69 L1246.10,67.75 L1245.45,67.80 L1244.82,67.84 L1244.18,67.87 L1243.56,67.89 L1242.95,67.89 L1242.35,67.88 L1241.76,67.85 L1241.18,67.80 L1240.62,67.74 L1240.07,67.65 L1239.54,67.54 L1239.02,67.41 L1238.52,67.26 L1238.03,67.08 L1237.56,66.88 L1237.10,66.66 L1236.66,66.42 L1236.23,66.16 L1235.83,65.87 L1235.43,65.56 L1235.05,65.23 L1234.68,64.88 L1234.33,64.52 L1233.99,64.13 L1233.66,63.72 L1233.35,63.30 L1233.05,62.86 L1232.75,62.41 L1232.47,61.94 L1232.20,61.45 L1231.94,60.95 L1231.69,60.44 L1231.44,59.92 L1231.20,59.39 L1230.97,58.84 L1230.75,58.29 L1230.53,57.73 L1230.32,57.16 L1230.11,56.59 L1229.90,56.01 L1229.70,55.43 L1229.50,54.84 L1229.30,54.26 L1229.10,53.67 L1228.90,53.08 L1228.69,52.50 L1228.49,51.92 L1228.28,51.35 L1228.06,50.79 L1227.84,50.23 L1227.61,49.69 L1227.37,49.16 L1227.12,48.64 L1226.86,48.14 L1226.59,47.65 L1226.30,47.19 L1226.00,46.75 L1225.68,46.33 L1225.35,45.93 L1225.00,45.55 L1224.64,45.21 L1224.25,44.88 L1223.85,44.59 L1223.42,44.32 L1222.98,44.08 L1222.52,43.87 L1222.04,43.68 L1221.54,43.53 L1221.02,43.39 L1220.49,43.29 L1219.94,43.20 L1219.37,43.14 L1218.79,43.11 L1218.19,43.09 L1217.58,43.09 L1216.96,43.10 L1216.33,43.13 L1215.69,43.17 L1215.05,43.22 L1214.40,43.27 L1213.75,43.33 L1213.10,43.40 L1212.44,43.46 L1211.79,43.52 L1211.15,43.57 L1210.50,43.62 L1209.87,43.65 L1209.24,43.68 L1208.62,43.69 L1208.02,43.69 L1207.42,43.67 L1206.83,43.63 L1206.26,43.58 L1205.71,43.50 L1205.16,43.41 L1204.64,43.29 L1204.12,43.15 L1203.63,42.99 L1203.15,42.80 L1202.68,42.59 L1202.23,42.36 L1201.80,42.11 L1201.38,41.84 L1200.98,41.54 L1200.59,41.23 L1200.21,40.89 L1199.85,40.53 L1199.51,40.16 L1199.17,39.76 L1198.85,39.35 L1198.54,38.92 L1198.24,38.47 L1197.95,38.01 L1197.68,37.53 L1197.41,37.04 L1197.15,36.54 L1196.90,36.03 L1196.66,35.50 L1196.42,34.96 L1196.20,34.41 L1195.97,33.86 L1195.76,33.29 L1195.55,32.72 L1195.34,32.15 L1195.13,31.57 L1194.93,30.98 L1194.73,30.40 L1194.53,29.81 L1194.33,29.22 L1194.13,28.64 L1193.92,28.06 L1193.72,27.48 L1193.50,26.91 L1193.29,26.35 L1193.06,25.80 L1192.83,25.26 L1192.58,24.74 L1192.33,24.23 L1192.06,23.73 L1191.79,23.26 L1191.50,22.80 L1191.19,22.37 L1190.87,21.96 L1190.53,21.57 L1190.17,21.20 L1189.80,20.87 L1189.40,20.56 L1188.99,20.27 L1188.56,20.02 L1188.11,19.79 L1187.64,19.59 L1187.15,19.41 L1186.65,19.27 L1186.12,19.15 L1185.58,19.05 L1185.02,18.98 L1184.45,18.92 L1183.86,18.89 L1183.25,18.88 L1182.64,18.89 L1182.02,18.91 L1181.38,18.94 L1180.74,18.99 L1180.10,19.04 L1179.45,19.10 L1178.80,19.16 L1178.14,19.22 L1177.49,19.28 L1176.84,19.34 L1176.20,19.39 L1175.56,19.43 L1174.92,19.46 L1174.30,19.48 L1173.69,19.49 L1173.08,19.48 L1172.49,19.45 L1171.91,19.41 L1171.35,19.35 L1170.80,19.26 L1170.26,19.16 L1169.74,19.03 L1169.23,18.88 L1168.74,18.71 L1168.27,18.52 L1167.81,18.30 L1167.37,18.06 L1166.94,17.80 L1166.53,17.52 L1166.13,17.21 L1165.75,16.89 L1165.38,16.54 L1165.02,16.18 L1164.68,15.79 L1164.35,15.39 L1164.04,14.97 L1163.73,14.53 L1163.44,14.08 L1163.15,13.61 L1162.88,13.13 L1162.62,12.64 L1162.36,12.13 L1162.12,11.61 L1161.88,11.08 L1161.64,10.53 L1161.42,9.98 L1161.20,9.42 L1160.99,8.86 L1160.78,8.28 L1160.57,7.71 L1160.37,7.12 L1160.16,6.54 L1159.96,5.95 L1159.76,5.36 L1159.56,4.78 L1159.36,4.20 L1159.15,3.62 L1158.95,3.04 L1158.73,2.48 L1158.51,1.92 L1158.28,1.37 L1158.04,0.84 L1157.80,0.32 L1157.54,-0.18 L1157.27,-0.67 L1156.98,-1.14 L1156.69,-1.58 L1156.37,-2.01 L1156.04,-2.41 L1155.70,-2.79 L1155.33,-3.14 L1154.95,-3.47 L1154.55,-3.77 L1154.13,-4.04 L1153.69,-4.28 L1153.23,-4.50 L1152.76,-4.69 L1152.26,-4.85 L1151.75,-4.99 L1151.21,-5.10 L1150.67,-5.19 L1150.10,-5.25 L1149.52,-5.29 L1148.93,-5.31 L1148.32,-5.32 L1147.70,-5.31 L1147.07,-5.28 L1146.44,-5.24 L1145.79,-5.20 L1145.15,-5.14 L1144.49,-5.08 L1143.84,-5.02 L1143.19,-4.96 L1142.54,-4.90 L1141.89,-4.84 L1141.25,-4.80 L1140.61,-4.76 L1139.98,-4.73 L1139.36,-4.71 L1138.75,-4.71 L1138.15,-4.73 L1137.57,-4.76 L1136.99,-4.82 L1136.43,-4.89 L1135.89,-4.98 L1135.36,-5.09 L1134.84,-5.23 L1134.34,-5.39 L1133.86,-5.57 L1133.39,-5.77 L1132.94,-6.00 L1132.50,-6.25 L1132.08,-6.52 L1131.68,-6.81 L1131.29,-7.12 L1130.91,-7.46 L1130.55,-7.81 L1130.20,-8.18 L1129.86,-8.57 L1129.54,-8.98 L1129.22,-9.41 L1128.92,-9.85 L1128.64,-10.31 L1128.36,-10.79 L1128.09,-11.27 L1127.83,-11.78 L1127.58,-12.29 L1127.33,-12.81 L1127.10,-13.35 L1126.87,-13.90 L1126.64,-14.45 L1126.43,-15.01 L1126.22,-15.58 L1126.01,-16.16 L1125.80,-16.74 L1125.60,-17.32 L1125.40,-17.91 L1125.20,-18.49 L1125.00,-19.08 L1124.80,-19.67 L1124.59,-20.25 L1124.39,-20.82 L1124.17,-21.39 L1123.96,-21.96 L1123.73,-22.51 L1123.50,-23.05 L1123.26,-23.58 L1123.01,-24.09 L1122.74,-24.59 L1122.47,-25.07 L1122.18,-25.53 L1121.88,-25.96 L1121.56,-26.38 L1121.22,-26.77 L1120.87,-27.14 L1120.49,-27.48 L1120.10,-27.80 L1119.70,-28.08 L1119.27,-28.34 L1118.82,-28.58 L1118.36,-28.78 L1117.87,-28.96 L1117.37,-29.11 L1116.84,-29.24 L1116.31,-29.34 L1115.75,-29.42 L1115.18,-29.47 L1114.59,-29.51 L1113.99,-29.52 L1113.38,-29.52 L1112.76,-29.50 L1112.13,-29.47 L1111.49,-29.43 L1110.84,-29.38 L1110.19,-29.32 L1109.54,-29.26 L1108.89,-29.20 L1108.24,-29.13 L1107.59,-29.08 L1106.94,-29.03 L1106.30,-28.98 L1105.67,-28.95 L1105.04,-28.92 L1104.42,-28.91 L1103.82,-28.92 L1103.22,-28.94 L1102.64,-28.99 L1102.08,-29.05 L1101.52,-29.13 L1100.98,-29.23 L1100.46,-29.35 L1099.95,-29.50 L1099.46,-29.66 L1098.98,-29.85 L1098.52,-30.07 L1098.07,-30.30 L1097.64,-30.56 L1097.23,-30.84 L1096.83,-31.14 L1096.44,-31.46 L1096.07,-31.80 L1095.72,-32.16 L1095.37,-32.54 L1095.04,-32.94 L1094.72,-33.36 L1094.42,-33.79 L1094.12,-34.24 L1093.83,-34.71 L1093.56,-35.19 L1093.29,-35.68 L1093.04,-36.19 L1092.79,-36.71 L1092.55,-37.24 L1092.32,-37.78 L1092.09,-38.33 L1091.87,-38.88 L1091.66,-39.45 L1091.44,-40.02 L1091.24,-40.60 L1091.03,-41.18 L1090.83,-41.77 L1090.63,-42.35 L1090.43,-42.94 L1090.23,-43.53 L1090.03,-44.11 L1089.82,-44.69 L1089.61,-45.26 L1089.40,-45.83 L1089.18,-46.39 L1088.95,-46.94 L1088.72,-47.47 L1088.47,-47.99 L1088.22,-48.50 L1087.95,-48.99 L1087.67,-49.46 L1087.37,-49.91 L1087.06,-50.34 L1086.73,-50.75 L1086.39,-51.13 L1086.03,-51.49 L1085.65,-51.82 L1085.25,-52.12 L1084.84,-52.40 L1084.40,-52.65 L1083.95,-52.87 L1083.47,-53.06 L1082.98,-53.23 L1082.47,-53.37 L1081.94,-53.49 L1081.39,-53.58 L1080.83,-53.64 L1080.25,-53.69 L1079.66,-53.72 L1079.06,-53.72 L1078.44,-53.71 L1077.81,-53.69 L1077.18,-53.65 L1076.54,-53.61 L1075.89,-53.55 L1075.24,-53.50 L1074.59,-53.43 Z" fill="#a7e95c" stroke="#1c3a10" stroke-width="2.1"/>
<circle cx="629.5" cy="377" r="144" fill="#f3faf6"/>
<circle cx="466" cy="377.4" r="125" fill="#05c3a9"/>
<circle cx="466" cy="377.4" r="75" fill="#80ffe7"/>
<circle cx="793" cy="377.4" r="125" fill="#05c3a9"/>
<circle cx="793" cy="377.4" r="75" fill="#80ffe7"/>
<circle cx="629.5" cy="377" r="85.7" fill="#e3f4ea" stroke="#f3faf6" stroke-width="1.2"/>
<circle cx="466" cy="377" r="23.5" fill="#fff"/>
<circle cx="793" cy="377" r="23.3" fill="#fff"/>
<circle cx="629.8" cy="377" r="27.5" fill="#fff"/>
<path d="M470.8,383.9 L474.1,383.9 L474.1,370 L471.7,370 L470.4,371.6 L467.5,373.5 L467.5,376.4 L470.8,374.3 Z" fill="#1e1e1e"/>
<g fill="#3c3c3c">
<rect x="171" y="284" width="113" height="1"/>
<rect x="227" y="284" width="1" height="61"/>
<rect x="227" y="344" width="118" height="1"/>
<rect x="962" y="283" width="112" height="1"/>
<rect x="1018" y="283" width="1" height="62"/>
<rect x="913" y="344" width="106" height="1"/>
<rect x="641" y="524" width="1" height="62"/>
<rect x="641" y="585" width="113" height="1"/>
<rect x="754" y="550" width="1" height="70"/>
</g>
</svg>
<div class="title">Venn diagram</div>
<div class="h" style="left:74.2px;top:217px;width:300px;">Add text here</div>
<div class="b" style="left:73.5px;top:244px;width:300px;">This slide is 100% editable. Adapt it to your<br>needs and capture your audience’s attention.</div>
<div class="h" style="left:890px;top:216px;width:300px;">Add text here</div>
<div class="b" style="left:890.6px;top:243px;width:300px;">This slide is 100% editable. Adapt it to your<br>needs and capture your audience’s attention.</div>
<div class="h" style="left:728.9px;top:544px;width:300px;">Add text here</div>
<div class="b" style="left:727.6px;top:567px;width:300px;">This slide is 100% editable. Adapt it to your<br>needs and capture your audience’s attention.</div>
<div class="num" style="left:430.5px;top:366px;">0</div>
<div class="num" style="left:599.3px;top:366px;">02</div>
<div class="num" style="left:763px;top:366px;">03</div>
<div class="pg">33</div>
</body></html>
